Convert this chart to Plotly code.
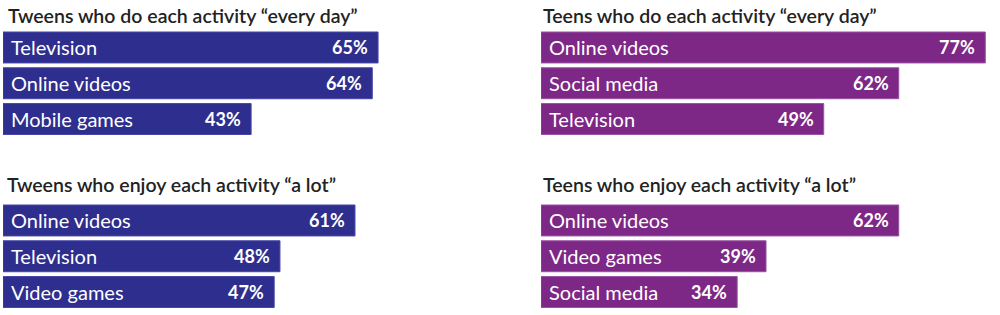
import plotly.graph_objects as go

tw_day_cats = ["Television", "Online videos", "Mobile games"]
tw_day_vals = [65, 64, 43]
te_day_cats = ["Online videos", "Social media", "Television"]
te_day_vals = [77, 62, 49]
tw_lot_cats = ["Online videos", "Television", "Video games"]
tw_lot_vals = [61, 48, 47]
te_lot_cats = ["Online videos", "Video games", "Social media"]
te_lot_vals = [62, 39, 34]

titles = [
    "Tweens who do each activity “every day”",
    "Teens who do each activity “every day”",
    "Tweens who enjoy each activity “a lot”",
    "Teens who enjoy each activity “a lot”",
]

BLUE = "#2E2E8E"
BLUE_LINE = "#4646A6"
PURPLE = "#7D2886"
PURPLE_LINE = "#9A52A4"

W, H = 1000, 315
SCALE = 5.77  # px per percent

panels = [
    (tw_day_cats, tw_day_vals, BLUE, BLUE_LINE, 3, 480, 29.6, 136.9),
    (te_day_cats, te_day_vals, PURPLE, PURPLE_LINE, 541, 998, 29.6, 136.9),
    (tw_lot_cats, tw_lot_vals, BLUE, BLUE_LINE, 3, 480, 202.6, 309.9),
    (te_lot_cats, te_lot_vals, PURPLE, PURPLE_LINE, 541, 998, 202.6, 309.9),
]
title_pos = [(6, 15), (541, 15), (5, 184), (541, 184)]

fig = go.Figure()
layout = dict(
    width=W, height=H,
    margin=dict(l=0, r=0, t=0, b=0),
    paper_bgcolor="white", plot_bgcolor="white",
    showlegend=False,
    font=dict(family="Lato", color="white"),
    bargap=0.135,
)
annotations = []
for i, (cats, vals, col, lcol, x0, x1, ytop, ybot) in enumerate(panels):
    n = i + 1
    xa = "x" if n == 1 else f"x{n}"
    ya = "y" if n == 1 else f"y{n}"
    fig.add_trace(go.Bar(
        x=vals, y=cats, orientation="h",
        marker=dict(color=col, line=dict(color=lcol, width=1)),
        xaxis=xa, yaxis=ya, hoverinfo="skip",
    ))
    layout[f"xaxis{'' if n == 1 else n}"] = dict(
        domain=[x0 / W, x1 / W], range=[0, (x1 - x0) / SCALE],
        visible=False, fixedrange=True,
    )
    layout[f"yaxis{'' if n == 1 else n}"] = dict(
        domain=[1 - ybot / H, 1 - ytop / H],
        type="category", categoryorder="array", categoryarray=cats,
        autorange="reversed", visible=False, fixedrange=True,
    )
    for c, v in zip(cats, vals):
        annotations.append(dict(
            x=0, y=c, xref=xa, yref=ya, text=c, showarrow=False,
            xanchor="left", yanchor="middle", xshift=6,
            font=dict(family="Lato", size=20, color="white"),
        ))
        annotations.append(dict(
            x=v, y=c, xref=xa, yref=ya, text=f"{v}%", showarrow=False,
            xanchor="right", yanchor="middle", xshift=-8,
            font=dict(family="Lato", size=18, color="white", weight="bold"),
        ))
    tx, ty = title_pos[i]
    annotations.append(dict(
        x=tx / W, y=1 - ty / H, xref="paper", yref="paper", text=titles[i],
        showarrow=False, xanchor="left", yanchor="middle",
        font=dict(family="Lato", size=19.5, color="#222222", weight=600),
    ))
layout["annotations"] = annotations
fig.update_layout(**layout)
fig.write_html("out.html")
